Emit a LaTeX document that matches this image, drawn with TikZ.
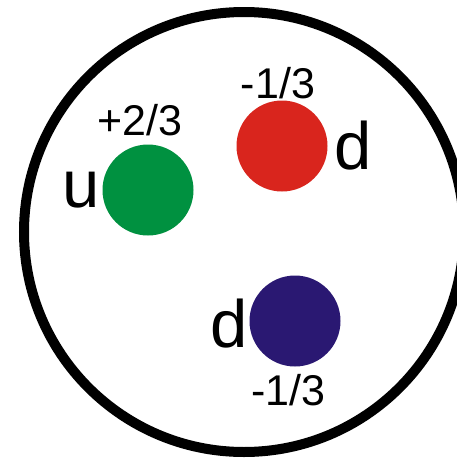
\documentclass[tikz,border=0pt]{standalone}
\usepackage{fontspec}
\setmainfont{Liberation Sans}
\definecolor{qgreen}{RGB}{0,145,64}
\definecolor{qred}{RGB}{217,37,29}
\definecolor{qblue}{RGB}{42,24,114}
\begin{document}
\begin{tikzpicture}[x=1pt,y=-1pt,
  quark/.style={circle,minimum size=91pt,inner sep=0pt},
  charge/.style={anchor=base,inner sep=0pt,font=\fontsize{43}{43}\selectfont},
  flavour/.style={anchor=base,inner sep=0pt,font=\fontsize{67}{67}\selectfont}]
\useasboundingbox (0,0) rectangle (457,459);
\fill[white] (0,0) rectangle (457,459);
\draw[line width=10pt] (244,232) circle (220);
\node[quark,fill=qgreen] (u) at (148,190) {};
\node[quark,fill=qred] (d1) at (282,146) {};
\node[quark,fill=qblue] (d2) at (295,321) {};
\node[charge] (cu) at (140,135) {+2/3};
\node[flavour] (lu) at (81.5,207) {u};
\node[charge] (cd1) at (278,98) {-1/3};
\node[flavour] (ld1) at (353,169) {d};
\node[flavour] (ld2) at (229,347) {d};
\node[charge] (cd2) at (288.5,405) {-1/3};
\end{tikzpicture}
\end{document}
